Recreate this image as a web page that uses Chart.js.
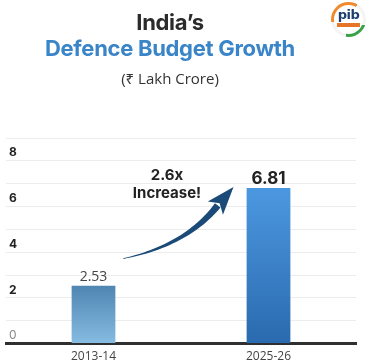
<!DOCTYPE html>
<html>
<head>
<meta charset="utf-8">
<script src="https://cdn.jsdelivr.net/npm/chart.js@4.4.1/dist/chart.umd.min.js"></script>
<style>
  html, body { margin: 0; padding: 0; background: #fff; overflow: hidden; }
  #wrap { position: relative; width: 371px; height: 360px; overflow: hidden; }
  #chart { position: absolute; left: 0; top: 0; }
  .ttl { position: absolute; left: 0; width: 340px; text-align: center; font-family: Inter, 'Noto Sans', sans-serif; white-space: nowrap; }
  #t1 { top: 9px; font-size: 22px; font-weight: 700; color: #2b2b2b; letter-spacing: -0.3px; }
  #t2 { top: 35px; font-size: 22px; font-weight: 700; color: #3a84c8; letter-spacing: -0.3px; }
  #t3 { top: 68px; font-size: 15px; font-weight: 400; color: #333; font-family: 'Open Sans', 'Noto Sans', sans-serif; }
  #logo { position: absolute; left: 331px; top: 2px; width: 35px; height: 35px; border-radius: 50%;
    background: conic-gradient(#f08a2c 0deg 30deg, #f4f4f4 30deg 110deg, #3aa14a 110deg 190deg, #f4f4f4 190deg 260deg, #f08a2c 260deg 360deg); }
  #logo .in { position: absolute; left: 3px; top: 3px; width: 29px; height: 29px; border-radius: 50%; background: #fff;
    font: 700 13px 'DejaVu Sans', sans-serif; color: #1d3f6e; text-align: center; line-height: 20px; letter-spacing: -0.5px; }
  #logo .band { position: absolute; left: 6px; top: 21px; width: 23px; height: 4px; background: #e8742a; }
</style>
</head>
<body>
<div id="wrap">
  <canvas id="chart" width="371" height="370"></canvas>
  <div class="ttl" id="t1">India’s</div>
  <div class="ttl" id="t2">Defence Budget Growth</div>
  <div class="ttl" id="t3">(₹ Lakh Crore)</div>
  <div id="logo"><div class="in">pib</div><div class="band"></div></div>
</div>
<script>
// 数据
const categories = ['2013-14', '2025-26'];
const budgetValues = [2.53, 6.81];
const yTicks = [0, 2, 4, 6, 8];
const annotationLines = ['2.6x', 'Increase!'];

// bar gradients (top -> bottom)
const barColors = [['#4f86b2', '#86bce2'], ['#4c98e0', '#2a6aae']];

function barGradient(ctx) {
  const chart = ctx.chart;
  const area = chart.chartArea;
  if (!area) return barColors[ctx.dataIndex][0];
  const y = chart.scales.y;
  const top = y.getPixelForValue(budgetValues[ctx.dataIndex]);
  const g = chart.ctx.createLinearGradient(0, top, 0, area.bottom);
  g.addColorStop(0, barColors[ctx.dataIndex][0]);
  g.addColorStop(1, barColors[ctx.dataIndex][1]);
  return g;
}

// value labels above the bars
const valueLabels = {
  id: 'valueLabels',
  afterDatasetsDraw(chart) {
    const c = chart.ctx;
    const meta = chart.getDatasetMeta(0);
    c.save();
    c.textAlign = 'center';
    c.textBaseline = 'bottom';
    meta.data.forEach((bar, i) => {
      if (i === 1) {
        c.font = "700 17px Inter, 'Noto Sans', sans-serif";
        c.fillStyle = '#222';
        c.fillText(budgetValues[i].toFixed(2), bar.x, bar.y - 1);
      } else {
        c.font = "400 14px 'Open Sans', 'Noto Sans', sans-serif";
        c.fillStyle = '#444';
        c.fillText(budgetValues[i].toFixed(2), bar.x, bar.y - 2);
      }
    });
    c.restore();
  }
};

// curved "2.6x Increase!" arrow, placed in data space
const growthArrow = {
  id: 'growthArrow',
  afterDatasetsDraw(chart) {
    const xs = chart.scales.x, ys = chart.scales.y;
    const px = (i, v) => ({ x: xs.getPixelForValue(0) + i * (xs.getPixelForValue(1) - xs.getPixelForValue(0)), y: ys.getPixelForValue(v) });
    const p0 = px(0.17, 3.72), cp = px(0.53, 4.3), p2 = px(0.71, 6.05), tip = px(0.80, 6.85);
    const c = chart.ctx;
    c.save();
    c.fillStyle = '#1b4a78';
    // tapered body
    const n = 30, left = [], right = [];
    for (let k = 0; k <= n; k++) {
      const t = k / n;
      const x = (1 - t) * (1 - t) * p0.x + 2 * t * (1 - t) * cp.x + t * t * p2.x;
      const y = (1 - t) * (1 - t) * p0.y + 2 * t * (1 - t) * cp.y + t * t * p2.y;
      const dx = 2 * (1 - t) * (cp.x - p0.x) + 2 * t * (p2.x - cp.x);
      const dy = 2 * (1 - t) * (cp.y - p0.y) + 2 * t * (p2.y - cp.y);
      const len = Math.hypot(dx, dy);
      const w = 0.3 + 3.2 * t;
      left.push([x - dy / len * w, y + dx / len * w]);
      right.push([x + dy / len * w, y - dx / len * w]);
    }
    c.beginPath();
    c.moveTo(left[0][0], left[0][1]);
    left.forEach(p => c.lineTo(p[0], p[1]));
    right.reverse().forEach(p => c.lineTo(p[0], p[1]));
    c.closePath();
    c.fill();
    // head
    const hx = tip.x - p2.x, hy = tip.y - p2.y, hl = Math.hypot(hx, hy);
    const nx = -hy / hl, ny = hx / hl;
    const bx = p2.x - hx * 0.15, by = p2.y - hy * 0.15;
    c.beginPath();
    c.moveTo(tip.x, tip.y);
    c.lineTo(bx + nx * 10, by + ny * 10);
    c.lineTo(p2.x + hx * 0.12, p2.y + hy * 0.12);
    c.lineTo(bx - nx * 10, by - ny * 10);
    c.closePath();
    c.fill();
    // text
    const tp = px(0.42, 7.35), tp2 = px(0.42, 6.55);
    c.font = "700 15px Inter, 'Noto Sans', sans-serif";
    c.fillStyle = '#222';
    c.textAlign = 'center';
    c.textBaseline = 'middle';
    c.fillText(annotationLines[0], tp.x, tp.y);
    c.fillText(annotationLines[1], tp2.x, tp2.y);
    c.restore();
  }
};

new Chart(document.getElementById('chart'), {
  type: 'bar',
  data: {
    labels: categories,
    datasets: [{
      data: budgetValues,
      backgroundColor: barGradient,
      borderWidth: 0,
      barPercentage: 0.5,
      categoryPercentage: 0.5
    }]
  },
  options: {
    responsive: false,
    animation: false,
    layout: { padding: { top: 138, left: 0, right: 15, bottom: 0 } },
    plugins: { legend: { display: false }, tooltip: { enabled: false } },
    scales: {
      x: {
        grid: { display: false, drawTicks: false },
        border: { display: true, color: '#2f2f2f', width: 3 },
        ticks: { color: '#444', padding: 6, font: { size: 12, family: "'Open Sans', 'Noto Sans', sans-serif" } }
      },
      y: {
        min: 0,
        max: 9,
        grid: { color: '#ececec', drawTicks: false },
        border: { display: false },
        afterBuildTicks(scale) {
          scale.ticks = [];
          for (let v = 0; v <= 9; v++) scale.ticks.push({ value: v });
        },
        ticks: {
          mirror: true,
          padding: 3,
          labelOffset: -8,
          callback: v => (yTicks.includes(v) ? String(v) : ''),
          color: ctx => (ctx.tick && ctx.tick.value === 0 ? '#888' : '#222'),
          font: ctx => ({ size: 12, weight: ctx.tick && ctx.tick.value === 0 ? 'normal' : 'bold', family: "Inter, 'Noto Sans', sans-serif" })
        }
      }
    }
  },
  plugins: [valueLabels, growthArrow]
});
</script>
</body>
</html>
